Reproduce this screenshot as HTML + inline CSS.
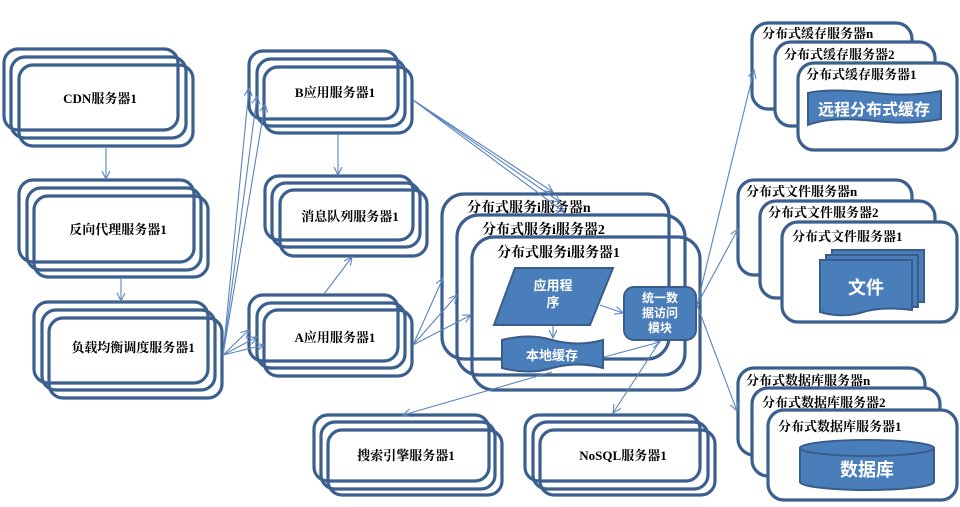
<!DOCTYPE html>
<html><head><meta charset="utf-8"><style>
html,body{margin:0;padding:0;background:#fff;width:960px;height:507px;overflow:hidden}
svg{display:block}
text{font-family:"Liberation Serif","Noto Serif CJK SC","Noto Sans CJK SC",serif;font-weight:bold;fill:#000}
.b{fill:none;stroke:#3b5f8e;stroke-width:3.2}
.w{fill:#fff;stroke:#3b5f8e;stroke-width:3.2}
.a{stroke:#5a85bd;stroke-width:1.1;fill:none;marker-end:url(#m)}
.f{fill:#4a7ebb;stroke:#385d8a;stroke-width:2}
.t{fill:#fff;font-family:"Liberation Sans","Noto Sans CJK SC",sans-serif;font-weight:bold}
</style></head><body>
<svg width="960" height="507" viewBox="0 0 960 507" xmlns="http://www.w3.org/2000/svg">
<defs><marker id="m" markerWidth="10" markerHeight="10" refX="9" refY="5" orient="auto" markerUnits="userSpaceOnUse"><path d="M1,1 L9,5 L1,9" fill="none" stroke="#5a85bd" stroke-width="1.1"/></marker></defs>

<rect class="b" x="4" y="49" width="174" height="81" rx="14"/>
<rect class="b" x="11" y="57" width="175" height="81" rx="14"/>
<rect class="b" x="19" y="65" width="174" height="81" rx="14"/>
<text x="100" y="103" font-size="13" text-anchor="middle">CDN服务器1</text>
<rect class="b" x="19" y="180" width="175" height="82" rx="14"/>
<rect class="b" x="27" y="188" width="174" height="82" rx="14"/>
<rect class="b" x="34" y="196" width="174" height="81" rx="14"/>
<text x="118" y="234" font-size="13" text-anchor="middle">反向代理服务器1</text>
<rect class="b" x="34" y="302" width="174" height="81" rx="14"/>
<rect class="b" x="42" y="310" width="173" height="80" rx="14"/>
<rect class="b" x="49" y="318" width="173" height="80" rx="14"/>
<text x="133" y="352" font-size="13" text-anchor="middle">负载均衡调度服务器1</text>
<rect class="b" x="249" y="51" width="149" height="68" rx="14"/>
<rect class="b" x="257" y="59" width="148" height="67" rx="14"/>
<rect class="b" x="264" y="67" width="148" height="66" rx="14"/>
<text x="335" y="97" font-size="13" text-anchor="middle">B应用服务器1</text>
<rect class="b" x="265" y="176" width="148" height="64" rx="14"/>
<rect class="b" x="272" y="183" width="148" height="64" rx="14"/>
<rect class="b" x="280" y="190" width="147" height="66" rx="14"/>
<text x="350" y="221" font-size="13" text-anchor="middle">消息队列服务器1</text>
<rect class="b" x="249" y="295" width="149" height="66" rx="14"/>
<rect class="b" x="257" y="303" width="148" height="65" rx="14"/>
<rect class="b" x="264" y="310" width="148" height="66" rx="14"/>
<text x="335" y="342" font-size="13" text-anchor="middle">A应用服务器1</text>
<rect class="b" x="314" y="415" width="175" height="66" rx="14"/>
<rect class="b" x="321" y="422" width="174" height="67" rx="14"/>
<rect class="b" x="328" y="430" width="174" height="65" rx="14"/>
<text x="406" y="460" font-size="13" text-anchor="middle">搜索引擎服务器1</text>
<rect class="b" x="525" y="415" width="175" height="66" rx="14"/>
<rect class="b" x="533" y="422" width="175" height="67" rx="14"/>
<rect class="b" x="540" y="430" width="175" height="65" rx="14"/>
<text x="623" y="460" font-size="13" text-anchor="middle">NoSQL服务器1</text>

<rect class="b" x="442" y="194" width="227" height="165" rx="22"/>
<rect class="b" x="457" y="215" width="228" height="160" rx="22"/>
<rect class="b" x="472" y="237" width="228" height="153" rx="22"/>
<text x="467" y="212" font-size="14">分布式服务i服务器n</text>
<text x="482" y="234" font-size="14">分布式服务i服务器2</text>
<text x="497" y="257" font-size="14">分布式服务i服务器1</text>
<polygon class="f" points="515,268 613,268 590,325 494,325"/>
<text class="t" x="553" y="290" font-size="13" text-anchor="middle">应用程</text>
<text class="t" x="553" y="307" font-size="13" text-anchor="middle">序</text>
<path class="f" d="M502,340 Q530,333 552,340 Q578,347 603,340 L603,368 Q578,361 552,368 Q530,375 502,368 Z"/>
<text class="t" x="552" y="360" font-size="13" text-anchor="middle">本地缓存</text>
<rect class="f" x="624" y="287" width="72" height="53" rx="10"/>
<text class="t" x="660" y="302" font-size="12" text-anchor="middle">统一数</text>
<text class="t" x="660" y="317" font-size="12" text-anchor="middle">据访问</text>
<text class="t" x="660" y="332" font-size="12" text-anchor="middle">模块</text>

<rect class="w" x="752" y="23" width="160" height="86" rx="16"/>
<rect class="w" x="775" y="42" width="160" height="84" rx="16"/>
<rect class="w" x="798" y="63" width="159" height="87" rx="16"/>
<text x="762" y="38" font-size="13">分布式缓存服务器n</text>
<text x="784" y="59" font-size="13">分布式缓存服务器2</text>
<text x="806" y="79" font-size="13">分布式缓存服务器1</text>
<path class="f" d="M808,93 Q830,88 875,93 Q910,97 941,91 L941,119 Q910,125 875,121 Q830,116 808,125 Z"/>
<text class="t" x="874" y="115" font-size="16" text-anchor="middle">远程分布式缓存</text>
<rect class="w" x="738" y="180" width="174" height="95" rx="16"/>
<rect class="w" x="760" y="201" width="175" height="97" rx="16"/>
<rect class="w" x="782" y="222" width="175" height="100" rx="16"/>
<text x="746" y="196" font-size="13">分布式文件服务器n</text>
<text x="768" y="217" font-size="13">分布式文件服务器2</text>
<text x="792" y="241" font-size="13">分布式文件服务器1</text>
<rect class="f" x="832" y="250" width="92" height="52"/>
<rect class="f" x="826" y="255" width="92" height="52"/>
<path class="f" d="M820,260 L912,260 L912,310 Q880,306 860,313 Q840,318 820,312 Z"/>
<text class="t" x="866" y="294" font-size="18" text-anchor="middle">文件</text>
<rect class="w" x="738" y="368" width="187" height="87" rx="16"/>
<rect class="w" x="752" y="388" width="188" height="88" rx="16"/>
<rect class="w" x="768" y="410" width="189" height="90" rx="16"/>
<text x="746" y="385" font-size="13">分布式数据库服务器n</text>
<text x="762" y="407" font-size="13">分布式数据库服务器2</text>
<text x="778" y="431" font-size="13">分布式数据库服务器1</text>
<path class="f" d="M800,448 L800,482 A67,8 0 0 0 934,482 L934,448 Z"/>
<ellipse class="f" cx="867" cy="448" rx="67" ry="8"/>
<text class="t" x="867" y="476" font-size="18" text-anchor="middle">数据库</text>

<line class="a" x1="106" y1="147" x2="106" y2="179"/>
<line class="a" x1="121" y1="278" x2="121" y2="301"/>
<line class="a" x1="338" y1="134" x2="338" y2="175"/>
<line class="a" x1="324" y1="294" x2="352" y2="257"/>
<line class="a" x1="223" y1="355" x2="249" y2="88"/>
<line class="a" x1="223" y1="355" x2="257" y2="96"/>
<line class="a" x1="223" y1="355" x2="265" y2="104"/>
<line class="a" x1="223" y1="355" x2="249" y2="330"/>
<line class="a" x1="223" y1="355" x2="257" y2="337"/>
<line class="a" x1="223" y1="355" x2="264" y2="345"/>
<line class="a" x1="413" y1="100" x2="553" y2="192"/>
<line class="a" x1="413" y1="100" x2="564" y2="212"/>
<line class="a" x1="413" y1="100" x2="560" y2="202"/>
<line class="a" x1="413" y1="345" x2="443" y2="278"/>
<line class="a" x1="413" y1="345" x2="457" y2="295"/>
<line class="a" x1="413" y1="345" x2="471" y2="315"/>
<line class="a" x1="553" y1="326" x2="553" y2="338"/>
<line class="a" x1="600" y1="305" x2="623" y2="313"/>
<line class="a" x1="604" y1="357" x2="660" y2="342"/>
<line class="a" x1="552" y1="372" x2="403" y2="415"/>
<line class="a" x1="660" y1="341" x2="613" y2="413"/>
<line class="a" x1="697" y1="305" x2="754" y2="70"/>
<line class="a" x1="697" y1="305" x2="738" y2="229"/>
<line class="a" x1="697" y1="305" x2="737" y2="411"/>
</svg>
</body></html>
